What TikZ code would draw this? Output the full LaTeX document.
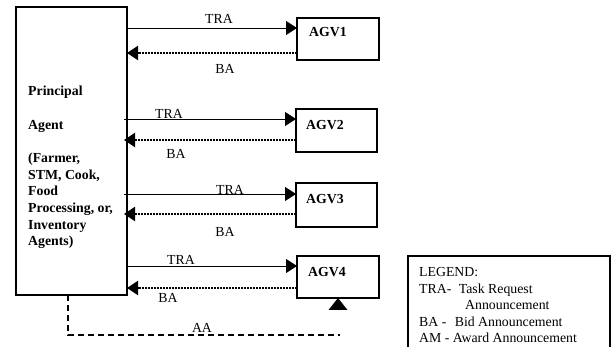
\documentclass[tikz,border=0pt]{standalone}
\usepackage{fontspec}
\setmainfont{Liberation Serif}
\usetikzlibrary{arrows.meta}

\tikzset{
  agentbox/.style={draw, line width=1.8pt, inner sep=0pt, outer sep=0pt},
  agvbox/.style={draw, line width=1.8pt, inner sep=0pt, outer sep=0pt},
  boldlbl/.style={font=\fontsize{13.8}{16.7}\selectfont\bfseries, inner sep=0pt, anchor=base west},
  msglbl/.style={font=\fontsize{13.8}{16.7}\selectfont, inner sep=0pt},
  tra/.style={line width=0.9pt, -{Triangle[length=11pt,width=14pt]}},
  ba/.style={line width=2pt, dash pattern=on 2pt off 1pt, -{Triangle[length=11pt,width=14pt]}},
  aa/.style={line width=2pt, dash pattern=on 6pt off 4pt},
}

\begin{document}
\begin{tikzpicture}[x=1pt, y=-1pt]
\useasboundingbox (0,0) rectangle (614,347);

% principal agent
\node[agentbox, minimum width=111pt, minimum height=288pt] (P) at (71.5,151) {};
\node[font=\fontsize{13.8}{16.7}\selectfont\bfseries, inner sep=0pt, anchor=north west, align=left]
  (ptext) at (28,85.6)
  {Principal\\[17.3pt]Agent\\[16.3pt](Farmer,\\STM, Cook,\\Food\\Processing, or,\\Inventory\\Agents)};

% AGV agents
\node[agvbox, minimum width=82pt, minimum height=42pt] (a1) at (338,39) {};
\node[agvbox, minimum width=81pt, minimum height=43pt] (a2) at (336.5,130.5) {};
\node[agvbox, minimum width=81pt, minimum height=44pt] (a3) at (336.5,205) {};
\node[agvbox, minimum width=82pt, minimum height=42pt] (a4) at (338,277) {};
\node[boldlbl] (l1) at (309,37) {AGV1};
\node[boldlbl] (l2) at (306,130) {AGV2};
\node[boldlbl] (l3) at (306,204) {AGV3};
\node[boldlbl] (l4) at (308,276.5) {AGV4};

% ports on the AGV boxes (request in, bid out)
\coordinate (t1) at ([yshift=-10pt]a1.north west);
\coordinate (b1) at ([yshift=7pt]a1.south west);
\coordinate (t2) at ([yshift=-10pt]a2.north west);
\coordinate (b2) at ([yshift=12pt]a2.south west);
\coordinate (t3) at ([yshift=-11pt]a3.north west);
\coordinate (b3) at ([yshift=13pt]a3.south west);
\coordinate (t4) at ([yshift=-10pt]a4.north west);
\coordinate (b4) at ([yshift=10pt]a4.south west);

% task requests and bids
\draw[tra] (P.east |- t1) -- (t1);
\draw[ba]  (b1) -- (P.east |- b1);
\draw[tra] ([xshift=-3pt]P.east |- t2) -- (t2);
\draw[ba]  (b2) -- ([xshift=-3pt]P.east |- b2);
\draw[tra] ([xshift=-3pt]P.east |- t3) -- (t3);
\draw[ba]  (b3) -- ([xshift=-3pt]P.east |- b3);
\draw[tra] (P.east |- t4) -- (t4);
\draw[ba]  (b4) -- (P.east |- b4);

\node[msglbl] (tra1) at (219,19) {TRA};
\node[msglbl] (ba1)  at (225,69) {BA};
\node[msglbl] (tra2) at (169,114) {TRA};
\node[msglbl] (ba2)  at (176,154) {BA};
\node[msglbl] (tra3) at (230,189.5) {TRA};
\node[msglbl] (ba3)  at (225,232) {BA};
\node[msglbl] (tra4) at (181,260) {TRA};
\node[msglbl] (ba4)  at (168,298) {BA};

% award announcement
\coordinate (aaend) at (340,335);
\draw[aa] ([xshift=-3.5pt]P.south) |- (aaend);
\node[msglbl] (aa) at (202,328) {AA};

% marker below AGV4
\fill (a4.south) -- ++(-9.5,12) -- ++(19,0) -- cycle;

% legend
\draw[line width=1.2pt] (408,348) -- (408,256) -- (610,256) -- (610,348);
\node[font=\fontsize{13.8}{16.6}\selectfont, inner sep=0pt, anchor=north west, align=left]
  (legend) at (419,267.2)
  {LEGEND:\\TRA-\hspace{7.5pt}Task Request\\\hspace*{46pt}Announcement\\BA -\hspace{8.4pt}Bid Announcement\\AM - Award Announcement};
\end{tikzpicture}
\end{document}
